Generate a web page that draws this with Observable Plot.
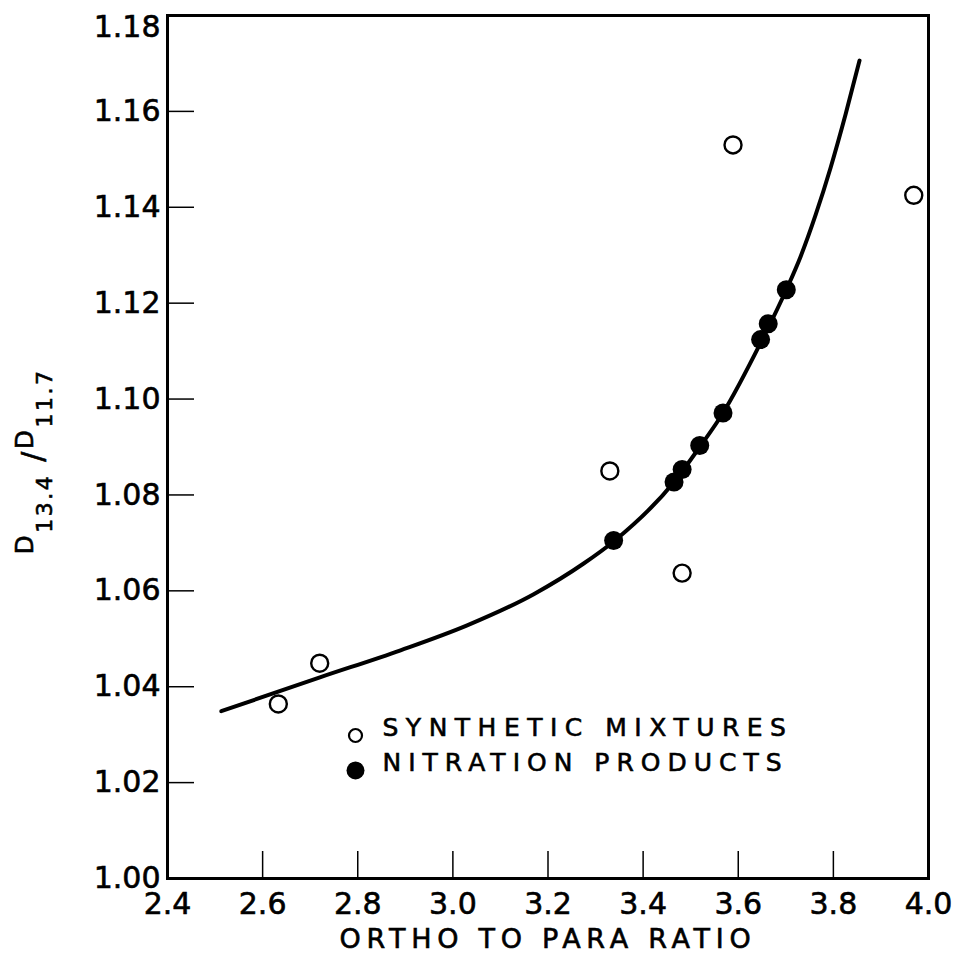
<!DOCTYPE html>
<html>
<head>
<meta charset="utf-8">
<script src="https://cdn.jsdelivr.net/npm/d3@7"></script>
<script src="https://cdn.jsdelivr.net/npm/@observablehq/plot@0.6"></script>
<style>
  html, body { margin: 0; padding: 0; background: #fff; }
  svg { display: block; }
  svg text { stroke: black; stroke-width: 0.6px; }
</style>
</head>
<body>
<div id="chart"></div>
<script>
// ---- data ----
const xDomain = [2.4, 4.0];
const yDomain = [1.00, 1.18];
const xTicks = [2.4, 2.6, 2.8, 3.0, 3.2, 3.4, 3.6, 3.8, 4.0];
const yTicks = [1.00, 1.02, 1.04, 1.06, 1.08, 1.10, 1.12, 1.14, 1.16, 1.18];

const synX = [2.633, 2.720, 3.330, 3.482, 3.589, 3.969];
const synY = [1.0364, 1.0449, 1.0850, 1.0637, 1.1530, 1.1425];

const nitX = [3.338, 3.465, 3.482, 3.519, 3.568, 3.647, 3.663, 3.701];
const nitY = [1.0705, 1.0827, 1.0853, 1.0903, 1.0971, 1.1124, 1.1157, 1.1228];

const curveX = [2.513, 2.722, 2.890, 3.030, 3.170, 3.275, 3.338, 3.465, 3.519, 3.568, 3.647, 3.701, 3.731, 3.763, 3.794, 3.826, 3.855];
const curveY = [1.0349, 1.0420, 1.0476, 1.0528, 1.0593, 1.0657, 1.0703, 1.0827, 1.0900, 1.0971, 1.1117, 1.1228, 1.1297, 1.1385, 1.1482, 1.1595, 1.1706];

const legendLabels = ["SYNTHETIC MIXTURES", "NITRATION PRODUCTS"];
const xLabel = "ORTHO TO PARA RATIO";

// ---- layout ----
const W = 961, H = 962;
const mL = 167, mR = 33, mT = 15, mB = 84;
const plotW = W - mL - mR, plotH = H - mT - mB;
const tickLen = 27;
const font = "DejaVu Sans, sans-serif";

const syn = synX.map((x, i) => ({x, y: synY[i]}));
const nit = nitX.map((x, i) => ({x, y: nitY[i]}));
const curve = curveX.map((x, i) => ({x, y: curveY[i]}));

function yLabelMark() {
  const g = d3.create("svg:g");
  const t = g.append("text")
    .attr("transform", `translate(33,${mT + plotH / 2 + 15}) rotate(-90)`)
    .attr("text-anchor", "middle")
    .attr("font-family", font)
    .attr("fill", "black")
    .attr("letter-spacing", "2.5px");
  t.append("tspan").attr("font-size", 25).text("D");
  t.append("tspan").attr("font-size", 22).attr("dy", 19).text("13.4");
  t.append("tspan").attr("font-size", 30).attr("dy", -9).text(" /");
  t.append("tspan").attr("font-size", 25).attr("dy", -10).text("D");
  t.append("tspan").attr("font-size", 22).attr("dy", 19).text("11.7");
  return g.node();
}

const legendMarks = legendLabels.flatMap((label, i) => [
  Plot.dot([label], {
    frameAnchor: "bottom-left", dx: 188, dy: -143 + 35 * i,
    r: i === 0 ? 6.5 : 9,
    fill: i === 0 ? "none" : "black",
    stroke: "black", strokeWidth: i === 0 ? 2.2 : 0
  }),
  Plot.text([label], {
    frameAnchor: "bottom-left", dx: 215, dy: -143 + 35 * i,
    text: d => d, textAnchor: "start", fontSize: 25, fill: "black",
    fontFamily: font
  })
]);

const chart = Plot.plot({
  width: W, height: H,
  marginLeft: mL, marginRight: mR, marginTop: mT, marginBottom: mB,
  style: {fontFamily: font, background: "white", color: "black"},
  x: {domain: xDomain, label: null},
  y: {domain: yDomain, label: null},
  marks: [
    Plot.axisX(xTicks, {tickSize: 0, tickPadding: 14, tickFormat: d3.format(".1f"), fontSize: 30, label: null}),
    Plot.axisY(yTicks.slice(0, -1), {tickSize: 0, tickPadding: 7, tickFormat: d3.format(".2f"), fontSize: 30, label: null}),
    Plot.axisY(yTicks.slice(-1), {tickSize: 0, tickPadding: 7, dy: 12, tickFormat: d3.format(".2f"), fontSize: 30, label: null}),
    Plot.ruleX(xTicks.slice(1, -1), {x: d => d, insetTop: plotH - tickLen, stroke: "black", strokeWidth: 1.5}),
    Plot.ruleY(yTicks.slice(1, -1), {y: d => d, insetRight: plotW - tickLen, stroke: "black", strokeWidth: 1.5}),
    Plot.frame({stroke: "black", strokeWidth: 3}),
    Plot.line(curve, {x: "x", y: "y", curve: "monotone-x", stroke: "black", strokeWidth: 4}),
    Plot.dot(syn, {x: "x", y: "y", r: 8.5, stroke: "black", strokeWidth: 2.4, fill: "none"}),
    Plot.dot(nit, {x: "x", y: "y", r: 9.5, fill: "black", stroke: "none"}),
    ...legendMarks,
    Plot.text([xLabel], {frameAnchor: "bottom", dy: 69, text: d => d, fontSize: 27, fill: "black", fontFamily: font}),
    yLabelMark
  ]
});

// letter spacing for the lettered labels
const spacing = new Map([[legendLabels[0], "7.5px"], [legendLabels[1], "7px"], [xLabel, "5.7px"]]);
d3.select(chart).selectAll("text").each(function() {
  const s = spacing.get(this.textContent);
  if (s) this.setAttribute("letter-spacing", s);
});

document.getElementById("chart").appendChild(chart);
</script>
</body>
</html>
